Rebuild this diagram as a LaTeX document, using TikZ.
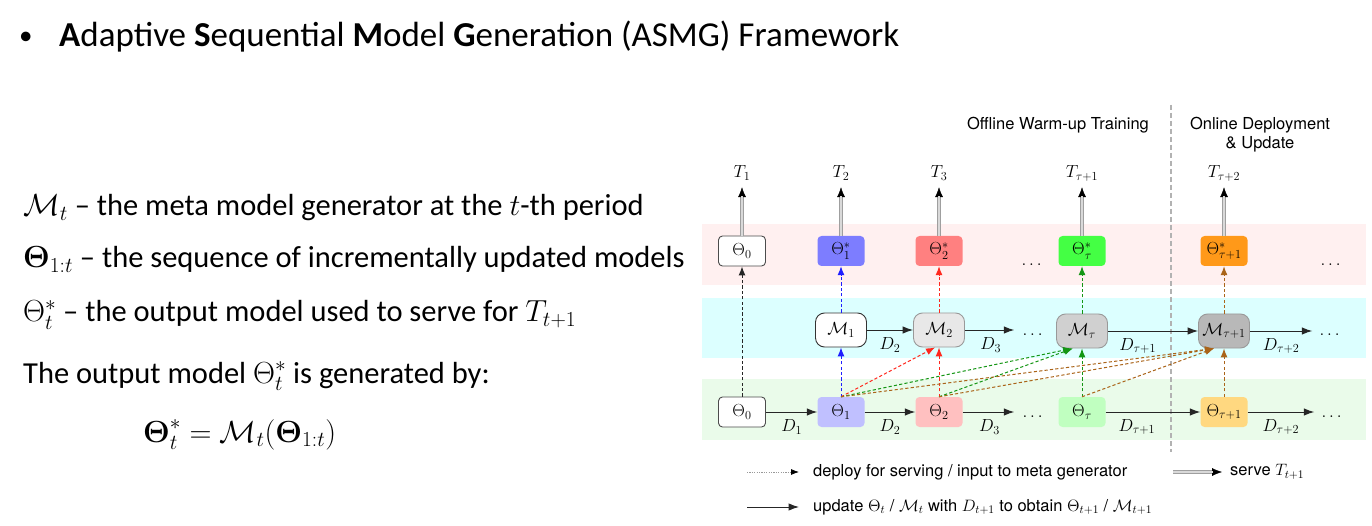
\RequirePackage{fix-cm}
\documentclass[tikz,border=0pt]{standalone}
\usepackage{amsmath}
\usepackage[no-math]{fontspec}
\newfontfamily\slidefont{Carlito}
\newfontfamily\dgmsans{TeX Gyre Heros}
\usetikzlibrary{arrows.meta,calc}

\newcommand\dgmfont{\fontsize{17.5}{20}\selectfont}
\newcommand\dgmtextfont{\dgmsans\fontsize{16.5}{19}\selectfont}
\newcommand\slidebody{\slidefont\fontsize{30.5}{36}\selectfont}

% band and node colours
\definecolor{bandpink}{RGB}{255,240,240}
\definecolor{bandcyan}{RGB}{220,255,255}
\definecolor{bandgreen}{RGB}{234,251,234}
\definecolor{starblue}{RGB}{125,125,255}
\definecolor{starred}{RGB}{255,128,128}
\definecolor{stargreen}{RGB}{68,255,68}
\definecolor{starorange}{RGB}{255,153,25}
\definecolor{thblue}{RGB}{192,192,255}
\definecolor{thred}{RGB}{255,192,192}
\definecolor{thgreen}{RGB}{192,255,192}
\definecolor{thorange}{RGB}{255,216,128}
\definecolor{mlight}{RGB}{232,232,232}
\definecolor{mmid}{RGB}{208,208,208}
\definecolor{mdark}{RGB}{184,184,184}
\definecolor{lnblue}{RGB}{30,30,255}
\definecolor{lnred}{RGB}{255,40,30}
\definecolor{lngreen}{RGB}{20,150,20}
\definecolor{lnbrown}{RGB}{170,100,25}

\tikzset{
  thbox/.style={rectangle, rounded corners=4pt, minimum width=47pt, minimum height=30pt,
                inner sep=0pt, font=\dgmfont},
  thwhite/.style={thbox, draw=black!70, fill=white, line width=0.9pt},
  thfill/.style={thbox, fill=#1, draw=none},
  mbox/.style={rectangle, rounded corners=9pt, minimum width=51pt, minimum height=34pt,
               inner sep=0pt, font=\dgmfont, line width=0.9pt, fill=#1, draw=black!40},
  dotsnode/.style={inner sep=0pt, font=\dgmfont},
  tlab/.style={anchor=base, inner sep=0pt, font=\dgmfont, text depth=4pt},
  dlab/.style={inner sep=0pt, font=\dgmfont, yshift=-15pt},
  dgmtext/.style={inner sep=0pt, font=\dgmtextfont},
  slidetext/.style={anchor=base west, inner sep=0pt, font=\slidebody},
  upd/.style={draw=black!85, line width=1pt, -{Latex[length=10.5pt,width=7.5pt]}},
  dsh/.style={line width=1pt, dash pattern=on 3.2pt off 2.2pt, -{Latex[length=9pt,width=7pt]}},
  serveouter/.style={draw=gray!75, line width=3.4pt, shorten >=5pt,
                     -{Latex[black,length=10pt,width=8pt,line width=0.4pt]}},
  serveinner/.style={draw=gray!30, line width=1.2pt, shorten >=14pt},
  legdot/.style={draw=gray!80, line width=0.8pt, dash pattern=on 1.2pt off 1.2pt,
                 shorten >=14pt, -{Latex[black,length=8pt,width=6pt]}},
}

\begin{document}
\begin{tikzpicture}[x=1pt,y=-1pt]
\useasboundingbox (0,0) rectangle (1372,526);
\fill[white] (0,0) rectangle (1372,526);

% ---------- slide text ----------
\node[anchor=base west, inner sep=0pt, font=\slidefont\fontsize{27}{32}\selectfont] (bullet) at (19,45) {•};
\node[anchor=base west, inner sep=0pt, font=\slidefont\fontsize{35}{42}\selectfont] (title) at (59,47)
  {\textbf{A}daptive \textbf{S}equential \textbf{M}odel \textbf{G}eneration (ASMG) Framework};

\node[slidetext] (defM) at (23,216) {$\mathcal{M}_t$ – the meta model generator at the $t$-th period};
\node[slidetext] (defSeq) at (23,268) {$\mathbf{\Theta}_{1:t}$ – the sequence of incrementally updated models};
\node[slidetext] (defOut) at (23,322) {$\Theta^*_t$ – the output model used to serve for $T_{t+1}$};
\node[slidetext] (genBy) at (23,383) {The output model $\Theta^*_t$ is generated by:};
\node[slidetext] (eqn) at (143,442) {$\boldsymbol{\Theta}^*_t = \mathcal{M}_t(\boldsymbol{\Theta}_{1:t})$};

% ---------- row bands ----------
\fill[bandpink]  (702,224) rectangle (1366,285);
\fill[bandcyan]  (702,298) rectangle (1366,358);
\fill[bandgreen] (702,379) rectangle (1366,440);

% phase divider
\draw[gray!60, line width=1.2pt, dash pattern=on 5pt off 3pt] (1171,105) -- (1171,452);

\node[dgmtext, anchor=base] (offline) at (1058,130) {Offline Warm-up Training};
\node[dgmtext, anchor=base] (online) at (1260,130) {Online Deployment};
\node[dgmtext, anchor=base] (onlineb) at (1260,149) {\& Update};

% ---------- task labels ----------
\node[tlab] (T1) at (742,178) {$T_1$};
\node[tlab] (T2) at (841,178) {$T_2$};
\node[tlab] (T3) at (939,178) {$T_3$};
\node[tlab] (Tt1) at (1082,178) {$T_{\tau+1}$};
\node[tlab] (Tt2) at (1224,178) {$T_{\tau+2}$};

% ---------- output models ----------
\node[thwhite] (t0) at (742,251) {$\Theta_0$};
\node[thfill=starblue] (s1) at (841,251) {$\Theta^*_1$};
\node[thfill=starred] (s2) at (939,251) {$\Theta^*_2$};
\node[dotsnode] (tdots) at (1033,265) {$\dots$};
\node[thfill=stargreen] (st) at (1082,251) {$\Theta^*_\tau$};
\node[thfill=starorange] (st1) at (1224,251) {$\Theta^*_{\tau+1}$};
\node[dotsnode] (tend) at (1332,265) {$\dots$};

% ---------- meta generators ----------
\node[mbox=white, draw=black!80] (m1) at (841,330) {$\mathcal{M}_1$};
\node[mbox=mlight] (m2) at (939,330) {$\mathcal{M}_2$};
\node[dotsnode] (mdots) at (1034,335) {$\dots$};
\node[mbox=mmid] (mt) at (1082,331) {$\mathcal{M}_\tau$};
\node[mbox=mdark] (mt1) at (1224,331) {$\mathcal{M}_{\tau+1}$};
\node[dotsnode] (mend) at (1331,335) {$\dots$};

% ---------- incremental models ----------
\node[thwhite] (b0) at (742,412) {$\Theta_0$};
\node[thfill=thblue] (b1) at (841,412) {$\Theta_1$};
\node[thfill=thred] (b2) at (939,412) {$\Theta_2$};
\node[dotsnode] (bdots) at (1034,417) {$\dots$};
\node[thfill=thgreen] (bt) at (1082,412) {$\Theta_\tau$};
\node[thfill=thorange] (bt1) at (1224,412) {$\Theta_{\tau+1}$};
\node[dotsnode] (bend) at (1333,417) {$\dots$};

% ---------- serving arrows ----------
\foreach \src/\dst in {t0/T1, s1/T2, s2/T3, st/Tt1, st1/Tt2} {
  \draw[serveouter] (\src.north) -- (\dst.south);
  \draw[serveinner] (\src.north) -- (\dst.south);
}

% ---------- update arrows ----------
\draw[upd] (m1) -- node[dlab] {$D_2$} (m2);
\draw[upd, shorten >=8pt] (m2.east) -- node[dlab, pos=0.45] {$D_3$} (m2.east -| mdots.west);
\draw[upd] (mt) -- node[dlab, pos=0.33] {$D_{\tau+1}$} (mt1);
\draw[upd, shorten >=7pt] (mt1.east) -- node[dlab, pos=0.45] {$D_{\tau+2}$} (mt1.east -| mend.west);

\draw[upd] (b0) -- node[dlab] {$D_1$} (b1);
\draw[upd] (b1) -- node[dlab] {$D_2$} (b2);
\draw[upd, shorten >=8pt] (b2.east) -- node[dlab, pos=0.45] {$D_3$} (b2.east -| bdots.west);
\draw[upd] (bt) -- node[dlab, pos=0.33] {$D_{\tau+1}$} (bt1);
\draw[upd, shorten >=7pt] (bt1.east) -- node[dlab, pos=0.45] {$D_{\tau+2}$} (bt1.east -| bend.west);

% ---------- deploy / input arrows ----------
\draw[dsh, draw=black!85] (b0.north) -- (t0.south);

\draw[dsh, draw=lnblue] (b1.north) -- (m1.south);
\draw[dsh, draw=lnblue] (m1.north) -- (s1.south);

\draw[dsh, draw=lnred] (b2.north) -- (m2.south);
\draw[dsh, draw=lnred] (m2.north) -- (s2.south);
\draw[dsh, draw=lnred] (b1.north) -- ($(m2.south)+(-4,0)$);

\draw[dsh, draw=lngreen] (bt.north) -- (mt.south);
\draw[dsh, draw=lngreen] (mt.north) -- (st.south);
\draw[dsh, draw=lngreen] (b1.north) -- ($(mt.south)+(-10,0)$);
\draw[dsh, draw=lngreen] (b2.north) -- ($(mt.south)+(-9,0)$);

\draw[dsh, draw=lnbrown] (bt1.north) -- (mt1.south);
\draw[dsh, draw=lnbrown] (mt1.north) -- (st1.south);
\draw[dsh, draw=lnbrown] (b1.north) -- ($(mt1.south)+(-10,0)$);
\draw[dsh, draw=lnbrown] (b2.north) -- ($(mt1.south)+(-10,0)$);
\draw[dsh, draw=lnbrown] (bt.north) -- ($(mt1.south)+(-10,0)$);

% ---------- legend ----------
\coordinate (lgA) at (747,472);
\node[dgmtext, anchor=west] (lgdeploy) at (813,472) {deploy for serving / input to meta generator};
\draw[legdot] (lgA) -- (lgdeploy.west);

\coordinate (lgB) at (1173,472);
\node[dgmtext, anchor=west] (lgserve) at (1230,472) {serve $T_{t+1}$};
\draw[serveouter, shorten >=8pt] (lgB) -- (lgserve.west);
\draw[serveinner, shorten >=17pt] (lgB) -- (lgserve.west);

\coordinate (lgC) at (747,507);
\node[dgmtext, anchor=west] (lgupdate) at (813,507)
  {update $\Theta_t$ / $\mathcal{M}_t$ with $D_{t+1}$ to obtain $\Theta_{t+1}$ / $\mathcal{M}_{t+1}$};
\draw[upd, shorten >=14pt] (lgC) -- (lgupdate.west);

\end{tikzpicture}
\end{document}
